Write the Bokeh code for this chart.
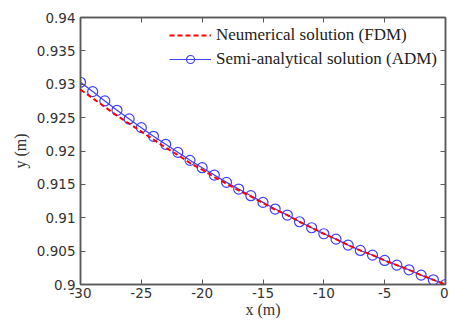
from bokeh.plotting import figure
from bokeh.embed import file_html
from bokeh.resources import INLINE
from bokeh.models import FixedTicker, LinearAxis, Range1d, Legend, LegendItem

# ---- data ----
x_m = [-30, -29, -28, -27, -26, -25, -24, -23, -22, -21, -20, -19, -18, -17, -16,
       -15, -14, -13, -12, -11, -10, -9, -8, -7, -6, -5, -4, -3, -2, -1, 0]
y_adm = [0.9303, 0.9289, 0.9275, 0.9261, 0.9248, 0.9235, 0.9222, 0.9210, 0.9198,
         0.9186, 0.9175, 0.9164, 0.9153, 0.9143, 0.9133, 0.9123, 0.9113, 0.9104,
         0.9094, 0.9085, 0.9076, 0.9068, 0.9059, 0.9051, 0.9044, 0.9036, 0.9029,
         0.9022, 0.9014, 0.9007, 0.9000]
y_fdm = [0.9292, 0.9279, 0.9266, 0.9253, 0.9241, 0.9229, 0.9217, 0.9205, 0.9194,
         0.9182, 0.9172, 0.9161, 0.9151, 0.9141, 0.9132, 0.9122, 0.9112, 0.9104,
         0.9094, 0.9085, 0.9076, 0.9068, 0.9059, 0.9051, 0.9044, 0.9036, 0.9029,
         0.9022, 0.9014, 0.9007, 0.9000]
x_ticks = [-30, -25, -20, -15, -10, -5, 0]
x_tick_labels = ["-30", "-25", "-20", "-15", "-10", "-5", "0"]
y_ticks = [0.9, 0.905, 0.91, 0.915, 0.92, 0.925, 0.93, 0.935, 0.94]
y_tick_labels = ["0.9", "0.905", "0.91", "0.915", "0.92", "0.925", "0.93", "0.935", "0.94"]
series_names = ["Neumerical solution (FDM)", "Semi-analytical solution (ADM)"]

AX = "#5a5a5a"
TICK_FONT = "DejaVu Sans"
SERIF = "Liberation Serif"
BLUE = "#4040ff"

p = figure(width=448, height=320, output_backend="svg", toolbar_location=None,
           x_range=Range1d(-30, 0), y_range=Range1d(0.9, 0.94),
           min_border_left=80, min_border_right=3, min_border_top=17, min_border_bottom=34)
p.grid.visible = False
p.outline_line_color = AX
p.outline_line_width = 1.5
p.background_fill_color = "white"
p.border_fill_color = "white"

r_fdm = p.line(x_m, y_fdm, line_color="#ff0000", line_width=2, line_dash="5 3", level="overlay")
r_adm_l = p.line(x_m, y_adm, line_color=BLUE, line_width=1.2)
r_adm_m = p.scatter(x_m, y_adm, marker="circle", size=10, fill_color=None,
                    line_color=BLUE, line_width=1.2)

def style_axis(ax, show_labels=True):
    ax.axis_line_color = AX
    ax.axis_line_width = 1.5
    ax.major_tick_line_color = AX
    ax.major_tick_in = 5
    ax.major_tick_out = 0
    ax.minor_tick_line_color = None
    ax.major_label_text_font = TICK_FONT
    ax.major_label_text_font_size = "13.5px"
    ax.major_label_text_color = "#333333"

xa = p.xaxis[0]
ya = p.yaxis[0]
xa.ticker = FixedTicker(ticks=x_ticks)
ya.ticker = FixedTicker(ticks=y_ticks)
xa.major_label_overrides = {t: s for t, s in zip(x_ticks, x_tick_labels)}
ya.major_label_overrides = {t: s for t, s in zip(y_ticks, y_tick_labels)}
style_axis(xa)
style_axis(ya)
xa.major_label_standoff = 3
ya.major_label_standoff = 5
xa.axis_label = "x (m)"
ya.axis_label = "y (m)"
for ax in (xa, ya):
    ax.axis_label_text_font = SERIF
    ax.axis_label_text_font_style = "normal"
    ax.axis_label_text_font_size = "16px"
    ax.axis_label_text_color = "#333333"
xa.axis_label_standoff = 0
ya.axis_label_standoff = 5

top = LinearAxis(ticker=FixedTicker(ticks=x_ticks))
right = LinearAxis(ticker=FixedTicker(ticks=y_ticks))
style_axis(top)
style_axis(right)
top.major_label_overrides = {t: "" for t in x_ticks}
right.major_label_overrides = {t: "" for t in y_ticks}
top.major_label_standoff = 0
right.major_label_standoff = 0
p.add_layout(top, "above")
p.add_layout(right, "right")

legend = Legend(items=[LegendItem(label=series_names[0], renderers=[r_fdm]),
                       LegendItem(label=series_names[1], renderers=[r_adm_l, r_adm_m])],
                location="top_right")
legend.border_line_alpha = 0
legend.background_fill_alpha = 0
legend.label_text_font = SERIF
legend.label_text_font_size = "17px"
legend.label_text_color = "#222222"
legend.glyph_width = 42
legend.glyph_height = 20
legend.spacing = 4
legend.padding = 0
legend.margin = 8
legend.label_standoff = 5
legend.label_height = 20
p.add_layout(legend)

open("out.html", "w").write(file_html(p, INLINE))
